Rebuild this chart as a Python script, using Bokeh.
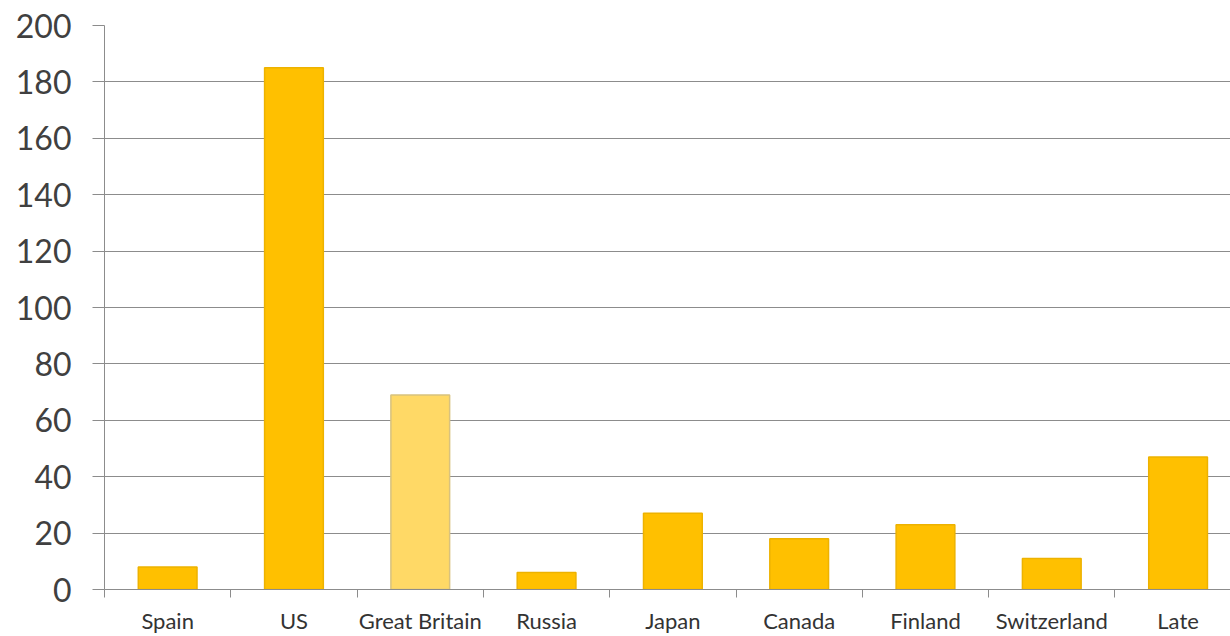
from bokeh.plotting import figure
from bokeh.models import ColumnDataSource, FixedTicker, Range1d
from bokeh.embed import file_html
from bokeh.resources import INLINE

categories = ["Spain", "US", "Great Britain", "Russia", "Japan", "Canada",
              "Finland", "Switzerland", "Late"]
values = [8, 185, 69, 6, 27, 18, 23, 11, 47]
y_ticks = [0, 20, 40, 60, 80, 100, 120, 140, 160, 180, 200]

fills = ["#FFC000"] * len(categories)
lines = ["#EDB200"] * len(categories)
fills[2] = "#FFD966"
lines[2] = "#D8C27E"

xs = [i + 0.5 for i in range(len(categories))]
src = ColumnDataSource(dict(x=xs, top=values, fill=fills, line=lines))

p = figure(width=1230, height=636, output_backend="svg", toolbar_location=None,
           x_range=Range1d(0, 8.915), y_range=Range1d(0, 200),
           min_border_left=104, min_border_right=0, min_border_top=25,
           min_border_bottom=44)
p.outline_line_color = None
p.background_fill_color = "white"
p.border_fill_color = "white"

p.vbar(x="x", top="top", width=0.465, bottom=0, source=src,
       fill_color="fill", line_color="line", line_width=1.5)

# x axis
p.xaxis.ticker = FixedTicker(ticks=xs, minor_ticks=list(range(len(categories) + 1)))
p.xaxis.major_label_overrides = {x: c for x, c in zip(xs, categories)}
p.xaxis.major_tick_line_color = None
p.xaxis.minor_tick_in = 0
p.xaxis.minor_tick_out = 8
p.xaxis.minor_tick_line_color = "#8c8c8c"
p.xaxis.axis_line_color = "#8c8c8c"
p.xaxis.major_label_standoff = 9
p.xaxis.major_label_text_font = "Lato"
p.xaxis.major_label_text_font_size = "22px"
p.xaxis.major_label_text_color = "#333333"

# y axis
p.yaxis.ticker = FixedTicker(ticks=y_ticks)
p.yaxis.minor_tick_line_color = None
p.yaxis.major_tick_in = 0
p.yaxis.major_tick_out = 12
p.yaxis.major_tick_line_color = "#8c8c8c"
p.yaxis.axis_line_color = "#8c8c8c"
p.yaxis.major_label_standoff = 21
p.yaxis.major_label_text_font = "Lato"
p.yaxis.major_label_text_font_size = "32px"
p.yaxis.major_label_text_color = "#404040"

p.xgrid.grid_line_color = None
p.ygrid.ticker = FixedTicker(ticks=y_ticks)
p.ygrid.grid_line_color = "#8c8c8c"
p.ygrid.grid_line_width = 1

open("out.html", "w").write(file_html(p, INLINE))
